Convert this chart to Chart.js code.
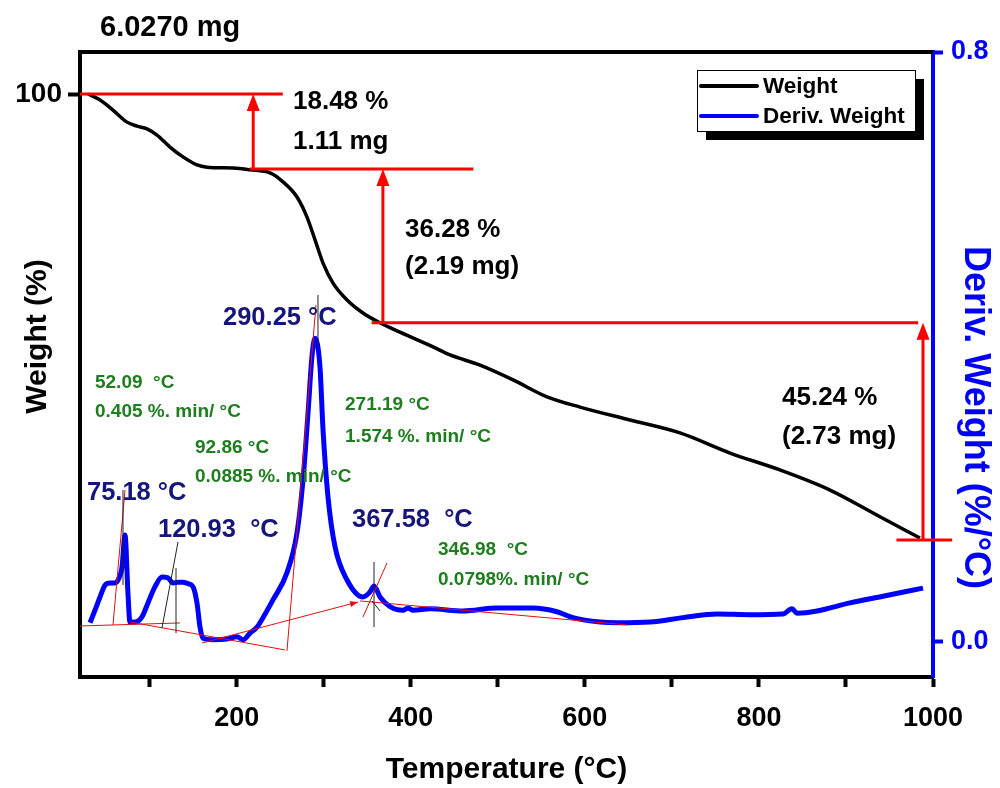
<!DOCTYPE html>
<html>
<head>
<meta charset="utf-8">
<title>TGA / DTG</title>
<script src="https://cdn.jsdelivr.net/npm/chart.js@4.4.1/dist/chart.umd.min.js"></script>
<style>
html, body { margin: 0; padding: 0; background: #fff; }
#wrap { width: 1000px; height: 788px; }
</style>
</head>
<body>
<div id="wrap"><canvas id="tga" width="1000" height="788"></canvas></div>
<script>
// weight curve (TGA)
var wTemp = [29.2, 43, 57.9, 74, 85.5, 97, 108.5, 123.4, 138.3, 154.4, 165.9, 195.8, 215.3, 238.3, 253.2,
    269.3, 280.8, 290, 299.2, 310.7, 326.8, 345.1, 364.7, 387.6, 425.6, 445.1, 479.6, 517.5, 556.5,
    594.5, 651.9, 709.3, 766.8, 824.2, 881.7, 939.1, 985];
var wValue = [100, 98.65, 96.4, 93.7, 92.8, 92.2, 90.8, 88.1, 85.9, 84.1, 83.6, 83.4, 83.0, 82.3, 80.3,
    76.9, 72.4, 67.3, 62.1, 57.6, 53.8, 50.9, 48.7, 46.6, 43.3, 41.5, 39.2, 35.9, 32.1,
    29.8, 26.9, 24.0, 19.5, 15.7, 11.2, 5.2, 0.45];

// derivative curve (DTG)
var dTemp = [31.5, 37.2, 43.0, 48.7, 54.5, 60.2, 63.7, 68.3, 71.7, 75.1, 77.4, 83.2, 91.2, 98.1, 106.2,
    114.2, 121.1, 126.8, 132.6, 138.3, 144.1, 149.8, 154.4, 157.9, 161.3, 172.8, 188.9, 200.4, 207.3,
    215.3, 223.4, 226.8, 241.7, 257.8, 269.3, 276.2, 282.0, 286.5, 290.0, 295.7, 299.2, 304.9, 313.0,
    326.8, 345.1, 353.2, 357.8, 364.7, 376.2, 391.1, 396.8, 402.6, 422.1, 460.0, 499.1, 540.5, 568.0,
    586.4, 617.4, 637.0, 674.9, 712.8, 751.8, 789.8, 827.7, 838.0, 843.8, 866.7, 904.7, 942.6, 988.5];
var dValue = [0.026, 0.043, 0.061, 0.077, 0.080, 0.080, 0.084, 0.102, 0.145, 0.066, 0.027, 0.027, 0.034, 0.053, 0.075,
    0.088, 0.087, 0.080, 0.081, 0.081, 0.079, 0.075, 0.053, 0.020, 0.005, 0.003, 0.004, 0.007, 0.003,
    0.012, 0.020, 0.026, 0.057, 0.094, 0.148, 0.220, 0.311, 0.387, 0.412, 0.373, 0.288, 0.197, 0.129,
    0.084, 0.061, 0.068, 0.076, 0.061, 0.048, 0.043, 0.046, 0.043, 0.045, 0.042, 0.046, 0.046, 0.041,
    0.033, 0.027, 0.026, 0.027, 0.033, 0.038, 0.037, 0.038, 0.045, 0.039, 0.042, 0.053, 0.062, 0.073];

var xTicks = [100, 200, 300, 400, 500, 600, 700, 800, 900, 1000];
var wTicks = [100];
var dTicks = [0, 0.8];

var FONT = "'Liberation Sans', Arial, sans-serif";
var BLUE = '#0000ff', NAVY = '#16167a', GREEN = '#1e7d1e', RED = '#ff0000';

// step construction (weight axis): horizontal guides [t1, t2, w] and arrows [t, wFrom, wTo]
var stepGuides = [[20, 253, 100], [215, 472, 83.2], [355, 983, 48.7], [958, 1022, 0]];
var stepArrows = [[219, 83.2, 100], [368, 48.7, 83.2], [988.5, 0, 48.7]];
var stepText = [
    ['18.48 %', 264.7, 0.732], ['1.11 mg', 264.7, 0.678],
    ['36.28 %', 393.4, 0.559], ['(2.19 mg)', 393.4, 0.5085],
    ['45.24 %', 826.5, 0.331], ['(2.73 mg)', 826.5, 0.278]
];

// onset / tangent construction on the DTG axis [t1, t2, d1, d2]
var tangentRed = [[20, 134.9, 0.0217, 0.0258], [77.4, 255.5, 0.0271, -0.0108], [160.2, 339.4, -0.0014, 0.0542],
    [341.7, 648.4, 0.0556, 0.0231], [57.9, 71.7, 0.0231, 0.2061], [257.8, 291.1, -0.0122, 0.457],
    [345.1, 372.7, 0.0339, 0.1071]];
var tangentBlack = [[114.2, 132.6, 0.019, 0.1356], [69.4, 69.4, 0.0773, 0.2061], [130.3, 130.3, 0.0122, 0.1003],
    [293.4, 293.4, 0.40, 0.4705], [357.8, 357.8, 0.0203, 0.1085], [355.5, 364.7, 0.0556, 0.042]];
var peakText = [['290.25 °C', 184.3, 0.4393], ['75.18 °C', 28, 0.202], ['120.93  °C', 109.6, 0.1519], ['367.58  °C', 332.5, 0.1654]];
var onsetText = [
    ['52.09  °C', 37.2, 0.3512], ['0.405 %. min/ °C', 37.2, 0.3119],
    ['92.86 °C', 152.1, 0.2631], ['0.0885 %. min/ °C', 152.1, 0.2237],
    ['271.19 °C', 324.5, 0.3214], ['1.574 %. min/ °C', 324.5, 0.278],
    ['346.98  °C', 431.3, 0.1248], ['0.0798%. min/ °C', 431.3, 0.0841]
];

function toPts(xs, ys) {
    return xs.map(function(x, i) { return { x: x, y: ys[i] }; });
}

function head(ctx, x1, y1, x2, y2, len, half) {
    var a = Math.atan2(y2 - y1, x2 - x1);
    ctx.beginPath();
    ctx.moveTo(x2, y2);
    ctx.lineTo(x2 - len * Math.cos(a) + half * Math.sin(a), y2 - len * Math.sin(a) - half * Math.cos(a));
    ctx.lineTo(x2 - len * Math.cos(a) - half * Math.sin(a), y2 - len * Math.sin(a) + half * Math.cos(a));
    ctx.closePath();
    ctx.fill();
}

var tgaDecor = {
    id: 'tgaDecor',
    afterDatasetsDraw: function(chart) {
        var ctx = chart.ctx, a = chart.chartArea, sx = chart.scales.x,
            sw = chart.scales.y, sd = chart.scales.y2;
        ctx.save();

        // top frame
        ctx.strokeStyle = '#000';
        ctx.lineWidth = 4;
        ctx.beginPath();
        ctx.moveTo(a.left - 2, a.top);
        ctx.lineTo(a.right, a.top);
        ctx.stroke();

        // thin onset lines
        ctx.lineWidth = 1;
        ctx.strokeStyle = '#e01010';
        tangentRed.forEach(function(l) {
            ctx.beginPath();
            ctx.moveTo(sx.getPixelForValue(l[0]), sd.getPixelForValue(l[2]));
            ctx.lineTo(sx.getPixelForValue(l[1]), sd.getPixelForValue(l[3]));
            ctx.stroke();
        });
        ctx.fillStyle = '#e01010';
        var l3 = tangentRed[2];
        head(ctx, sx.getPixelForValue(l3[0]), sd.getPixelForValue(l3[2]),
            sx.getPixelForValue(l3[1]), sd.getPixelForValue(l3[3]), 8, 3);
        ctx.strokeStyle = '#222';
        tangentBlack.forEach(function(l) {
            ctx.beginPath();
            ctx.moveTo(sx.getPixelForValue(l[0]), sd.getPixelForValue(l[2]));
            ctx.lineTo(sx.getPixelForValue(l[1]), sd.getPixelForValue(l[3]));
            ctx.stroke();
        });

        // mass loss steps
        ctx.strokeStyle = RED;
        ctx.fillStyle = RED;
        ctx.lineWidth = 3;
        stepGuides.forEach(function(g) {
            var y = sw.getPixelForValue(g[2]);
            ctx.beginPath();
            ctx.moveTo(sx.getPixelForValue(g[0]), y);
            ctx.lineTo(sx.getPixelForValue(g[1]), y);
            ctx.stroke();
        });
        stepArrows.forEach(function(s) {
            var x = sx.getPixelForValue(s[0]), y1 = sw.getPixelForValue(s[1]), y2 = sw.getPixelForValue(s[2]);
            ctx.beginPath();
            ctx.moveTo(x, y1);
            ctx.lineTo(x, y2 + 12);
            ctx.stroke();
            head(ctx, x, y1, x, y2, 17, 6.5);
        });

        // texts
        ctx.textAlign = 'left';
        ctx.textBaseline = 'middle';
        function put(list, color, size) {
            ctx.fillStyle = color;
            ctx.font = 'bold ' + size + 'px ' + FONT;
            list.forEach(function(t) {
                ctx.fillText(t[0], sx.getPixelForValue(t[1]), sd.getPixelForValue(t[2]));
            });
        }
        put(stepText, '#000', 26);
        put(peakText, NAVY, 25.5);
        put(onsetText, GREEN, 19);
        put([['6.0270 mg', 43, 0.8326]], '#000', 29);

        // axis titles for the two y axes
        ctx.font = 'bold 30px ' + FONT;
        ctx.textAlign = 'center';
        ctx.fillStyle = '#000';
        ctx.save();
        ctx.translate(a.left - 42, (a.top + a.bottom) / 2 - 28);
        ctx.rotate(-Math.PI / 2);
        ctx.fillText('Weight (%)', 0, 0);
        ctx.restore();
        ctx.fillStyle = BLUE;
        ctx.font = 'bold 36px ' + FONT;
        ctx.save();
        ctx.translate(a.right + 42, (a.top + a.bottom) / 2 + 53);
        ctx.rotate(Math.PI / 2);
        ctx.fillText('Deriv. Weight (%/°C)', 0, 0);
        ctx.restore();

        // legend with drop shadow
        var lx = a.right - 236, ly = a.top + 18, lw = 218, lh = 61;
        ctx.fillStyle = '#000';
        ctx.fillRect(lx + 9, ly + 9, lw, lh);
        ctx.fillStyle = '#fff';
        ctx.fillRect(lx, ly, lw, lh);
        ctx.strokeStyle = '#000';
        ctx.lineWidth = 1;
        ctx.strokeRect(lx + 0.5, ly + 0.5, lw, lh);
        ctx.textAlign = 'left';
        ctx.font = 'bold 22.5px ' + FONT;
        chart.data.datasets.forEach(function(ds, i) {
            var y = ly + 16 + i * 30;
            ctx.strokeStyle = ds.borderColor;
            ctx.lineWidth = 4;
            ctx.lineCap = 'round';
            ctx.beginPath();
            ctx.moveTo(lx + 4, y);
            ctx.lineTo(lx + 60, y);
            ctx.stroke();
            ctx.fillStyle = '#000';
            ctx.fillText(ds.label, lx + 66, y + 1);
        });
        ctx.restore();
    }
};

var chart = new Chart(document.getElementById('tga').getContext('2d'), {
    type: 'scatter',
    data: {
        datasets: [{
            label: 'Weight',
            data: toPts(wTemp, wValue),
            yAxisID: 'y',
            showLine: true,
            borderColor: '#000',
            borderWidth: 3.5,
            pointRadius: 0,
            cubicInterpolationMode: 'monotone'
        }, {
            label: 'Deriv. Weight',
            data: toPts(dTemp, dValue),
            yAxisID: 'y2',
            showLine: true,
            borderColor: BLUE,
            borderWidth: 5,
            pointRadius: 0,
            cubicInterpolationMode: 'monotone'
        }]
    },
    options: {
        responsive: false,
        animation: false,
        layout: { padding: { top: 52, left: 0, right: 0, bottom: 0 } },
        plugins: { legend: { display: false }, tooltip: { enabled: false } },
        scales: {
            x: {
                type: 'linear',
                min: 20,
                max: 1000,
                afterFit: function(s) { s.height = 111; },
                afterBuildTicks: function(s) { s.ticks = xTicks.map(function(v) { return { value: v }; }); },
                grid: { drawOnChartArea: false, tickLength: 10, tickWidth: 4, tickColor: '#000' },
                border: { display: true, width: 4, color: '#000' },
                ticks: {
                    padding: 15,
                    color: '#000',
                    font: { family: FONT, size: 27, weight: 'bold' },
                    callback: function(v) { return v % 200 === 0 ? v : ''; }
                },
                title: {
                    display: true,
                    text: 'Temperature (°C)',
                    color: '#000',
                    padding: 0,
                    font: { family: FONT, size: 30, weight: 'bold' }
                }
            },
            y: {
                type: 'linear',
                position: 'left',
                min: -30.72,
                max: 109.42,
                afterFit: function(s) { s.width = 80; },
                afterBuildTicks: function(s) { s.ticks = wTicks.map(function(v) { return { value: v }; }); },
                grid: { drawOnChartArea: false, tickLength: 12, tickWidth: 4, tickColor: '#000' },
                border: { display: true, width: 4, color: '#000' },
                ticks: { padding: 6, color: '#000', font: { family: FONT, size: 28, weight: 'bold' } }
            },
            y2: {
                type: 'linear',
                position: 'right',
                min: -0.0475,
                max: 0.8,
                afterFit: function(s) { s.width = 67; },
                afterBuildTicks: function(s) { s.ticks = dTicks.map(function(v) { return { value: v }; }); },
                grid: { drawOnChartArea: false, tickLength: 10, tickWidth: 4, tickColor: BLUE },
                border: { display: true, width: 4, color: BLUE },
                ticks: {
                    padding: 8,
                    color: BLUE,
                    font: { family: FONT, size: 27, weight: 'bold' },
                    callback: function(v) { return v.toFixed(1); }
                }
            }
        }
    },
    plugins: [tgaDecor]
});
</script>
</body>
</html>
